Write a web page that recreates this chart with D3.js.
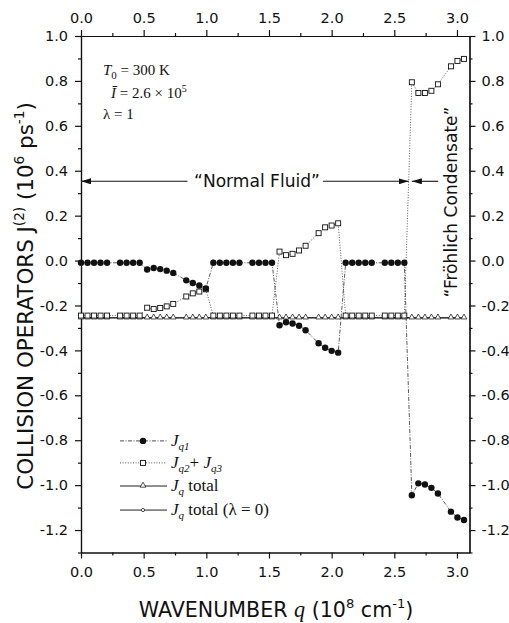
<!DOCTYPE html>
<html>
<head>
<meta charset="utf-8">
<script src="https://cdn.jsdelivr.net/npm/d3@7"></script>
<style>
body { margin: 0; background: #fff; }
svg { display: block; }
.axis text { font-family: "DejaVu Sans", sans-serif; font-size: 14.5px; fill: #111; }
.axis path, .axis line { stroke: #111; stroke-width: 1.2; }
.serif { font-family: "Liberation Serif", "Times New Roman", serif; fill: #111; }
.sans { font-family: "DejaVu Sans", sans-serif; fill: #111; }
</style>
</head>
<body>
<svg width="509" height="623"></svg>
<script>
// wavenumber q (10^8 cm^-1)
const qValues = [
    0.000, 0.052, 0.104, 0.156, 0.208, 0.312, 0.364, 0.416, 0.468,
    0.528, 0.580, 0.632, 0.684, 0.736, 0.840, 0.892, 0.944, 0.996,
    1.056, 1.108, 1.160, 1.212, 1.264, 1.368, 1.420, 1.472, 1.524,
    1.584, 1.636, 1.688, 1.740, 1.792, 1.896, 1.948, 2.000, 2.052,
    2.112, 2.164, 2.216, 2.268, 2.320, 2.424, 2.476, 2.528, 2.580,
    2.640, 2.692, 2.744, 2.796, 2.848, 2.952, 3.004, 3.056
];
const jq1 = [
    -0.010, -0.010, -0.010, -0.010, -0.010, -0.010, -0.010, -0.010, -0.010,
    -0.040, -0.033, -0.038, -0.045, -0.055, -0.088, -0.100, -0.111, -0.124,
    -0.010, -0.010, -0.010, -0.010, -0.010, -0.010, -0.010, -0.010, -0.010,
    -0.288, -0.275, -0.280, -0.290, -0.310, -0.368, -0.388, -0.402, -0.410,
    -0.010, -0.010, -0.010, -0.010, -0.010, -0.010, -0.010, -0.010, -0.010,
    -1.045, -0.992, -0.997, -1.012, -1.037, -1.118, -1.144, -1.155
];
const jq23 = [
    -0.245, -0.245, -0.245, -0.245, -0.245, -0.245, -0.245, -0.245, -0.245,
    -0.210, -0.216, -0.211, -0.204, -0.193, -0.160, -0.146, -0.138, -0.128,
    -0.245, -0.245, -0.245, -0.245, -0.245, -0.245, -0.245, -0.245, -0.245,
     0.040,  0.024,  0.030,  0.045,  0.066,  0.122,  0.148,  0.156,  0.166,
    -0.245, -0.245, -0.245, -0.245, -0.245, -0.245, -0.245, -0.245, -0.245,
     0.794,  0.746,  0.746,  0.756,  0.785,  0.865,  0.889,  0.898
];
const jqTotal = [
    -0.255, -0.255, -0.255, -0.255, -0.255, -0.255, -0.255, -0.255, -0.255,
    -0.255, -0.255, -0.255, -0.255, -0.255, -0.255, -0.255, -0.255, -0.255,
    -0.255, -0.255, -0.255, -0.255, -0.255, -0.255, -0.255, -0.255, -0.255,
    -0.255, -0.255, -0.255, -0.255, -0.255, -0.255, -0.255, -0.255, -0.255,
    -0.255, -0.255, -0.255, -0.255, -0.255, -0.255, -0.255, -0.255, -0.255,
    -0.255, -0.255, -0.255, -0.255, -0.255, -0.255, -0.255, -0.255
];
const jqTotalLambda0 = jqTotal.slice();

const xTicks = [0.0, 0.5, 1.0, 1.5, 2.0, 2.5, 3.0];
const xMinorTicks = [0.25, 0.75, 1.25, 1.75, 2.25, 2.75];
const yTicks = [1.0, 0.8, 0.6, 0.4, 0.2, 0.0, -0.2, -0.4, -0.6, -0.8, -1.0, -1.2];
const yMinorTicks = [0.9, 0.7, 0.5, 0.3, 0.1, -0.1, -0.3, -0.5, -0.7, -0.9, -1.1, -1.3];

const svg = d3.select("svg");
const x = d3.scaleLinear().domain([0, 3.1]).range([81, 469.5]);
const y = d3.scaleLinear().domain([-1.3, 1.0]).range([552.5, 36]);
const fmt = d => d.toFixed(1);

// axes, ticks pointing outwards on all four sides
function drawAxis(axis, minor, transform) {
    svg.append("g").attr("class", "axis").attr("transform", transform)
        .call(axis.tickSize(3).tickValues(minor).tickFormat("").tickSizeOuter(0));
}
drawAxis(d3.axisLeft(y), yMinorTicks, `translate(${x(0)},0)`);
drawAxis(d3.axisRight(y), yMinorTicks, `translate(${x(3.1)},0)`);
drawAxis(d3.axisTop(x), xMinorTicks, `translate(0,${y(1.0)})`);
drawAxis(d3.axisBottom(x), xMinorTicks, `translate(0,${y(-1.3)})`);

svg.append("g").attr("class", "axis").attr("transform", `translate(${x(0)},0)`)
    .call(d3.axisLeft(y).tickValues(yTicks).tickFormat(fmt).tickSize(6).tickPadding(7).tickSizeOuter(0));
svg.append("g").attr("class", "axis").attr("transform", `translate(${x(3.1)},0)`)
    .call(d3.axisRight(y).tickValues(yTicks).tickFormat(fmt).tickSize(6).tickPadding(6).tickSizeOuter(0));
svg.append("g").attr("class", "axis").attr("transform", `translate(0,${y(1.0)})`)
    .call(d3.axisTop(x).tickValues(xTicks).tickFormat(fmt).tickSize(6).tickPadding(7).tickSizeOuter(0));
svg.append("g").attr("class", "axis").attr("transform", `translate(0,${y(-1.3)})`)
    .call(d3.axisBottom(x).tickValues(xTicks).tickFormat(fmt).tickSize(6).tickPadding(8).tickSizeOuter(0));

// series
const pts = vals => qValues.map((q, i) => [q, vals[i]]);
const line = d3.line().x(d => x(d[0])).y(d => y(d[1]));

svg.append("path").attr("d", line(pts(jqTotalLambda0)))
    .attr("fill", "none").attr("stroke", "#222").attr("stroke-width", 1);
svg.append("path").attr("d", line(pts(jqTotal)))
    .attr("fill", "none").attr("stroke", "#222").attr("stroke-width", 1);
svg.selectAll(".tri")
    .data(pts(jqTotal))
    .enter()
    .append("path")
    .attr("class", "tri")
    .attr("transform", d => `translate(${x(d[0])},${y(d[1]) - 0.5})`)
    .attr("d", d3.symbol(d3.symbolTriangle, 14))
    .attr("fill", "#fff").attr("stroke", "#222").attr("stroke-width", 0.8);

svg.append("path").attr("d", line(pts(jq23)))
    .attr("fill", "none").attr("stroke", "#333").attr("stroke-width", 0.8)
    .attr("stroke-dasharray", "1,1.6");
svg.selectAll(".sq")
    .data(pts(jq23))
    .enter()
    .append("rect")
    .attr("class", "sq")
    .attr("x", d => x(d[0]) - 2.5)
    .attr("y", d => y(d[1]) - 2.5)
    .attr("width", 5).attr("height", 5)
    .attr("fill", "#fff").attr("stroke", "#111").attr("stroke-width", 0.9);

svg.append("path").attr("d", line(pts(jq1)))
    .attr("fill", "none").attr("stroke", "#333").attr("stroke-width", 0.8)
    .attr("stroke-dasharray", "4,1.5,1,1.5");
svg.selectAll(".dot")
    .data(pts(jq1))
    .enter()
    .append("circle")
    .attr("class", "dot")
    .attr("cx", d => x(d[0]))
    .attr("cy", d => y(d[1]))
    .attr("r", 3.2)
    .attr("fill", "#111");

// annotations
function addParts(t, parts) {
    parts.forEach(p => {
        const s = t.append("tspan").text(p[0]);
        if (p[1].includes("i")) s.attr("font-style", "italic");
        if (p[1].includes("sub")) s.attr("font-size", "11px").attr("dy", 4);
        if (p[1].includes("up")) s.attr("dy", -4);
        if (p[1].includes("sup")) s.attr("font-size", "10px").attr("dy", -6);
        if (p[1].includes("down")) s.attr("dy", 6);
    });
}

// scale a text placed at 0,0 so its run length matches the original
function fitText(t, cx, cy, target, angle) {
    const w = t.node().getBBox().width;
    t.attr("transform", `translate(${cx},${cy}) rotate(${angle}) scale(${target / w})`);
}

const params = svg.append("g").attr("class", "serif").attr("font-size", "15px");
addParts(params.append("text").attr("x", 103).attr("y", 75),
    [["T", "i"], ["0", "sub"], [" = 300 K", "up"]]);
addParts(params.append("text").attr("x", 111).attr("y", 98),
    [["Ī", "i"], [" = 2.6 × 10", ""], ["5", "sup"]]);
addParts(params.append("text").attr("x", 103).attr("y", 119),
    [["λ", ""], [" = 1", ""]]);

// "Normal Fluid" arrows
svg.append("defs").append("marker")
    .attr("id", "head").attr("viewBox", "0 0 10 6").attr("refX", 10).attr("refY", 3)
    .attr("markerWidth", 10).attr("markerHeight", 6).attr("markerUnits", "userSpaceOnUse")
    .attr("orient", "auto")
    .append("path").attr("d", "M0,0 L10,3 L0,6 Z").attr("fill", "#111");
const ya = y(0.353);
[[0.85, 0.0], [1.93, 2.615], [2.85, 2.64]].forEach(a => {
    svg.append("line")
        .attr("x1", x(a[0])).attr("y1", ya).attr("x2", x(a[1])).attr("y2", ya)
        .attr("stroke", "#111").attr("stroke-width", 1.1)
        .attr("marker-end", "url(#head)");
});
const nf = svg.append("text").attr("class", "sans").attr("font-size", "17.5px")
    .attr("text-anchor", "middle").text("“Normal Fluid”");
fitText(nf, 257, ya + 6, 126, 0);
const fc = svg.append("text").attr("class", "sans").attr("font-size", "17.5px")
    .attr("text-anchor", "middle").text("“Fröhlich Condensate”");
fitText(fc, 457, 202, 191, -90);

// axis titles
const xt = svg.append("text").attr("class", "sans").attr("font-size", "20.5px")
    .attr("text-anchor", "middle");
xt.append("tspan").text("WAVENUMBER ");
xt.append("tspan").attr("class", "serif").attr("font-style", "italic").attr("font-size", "22px").text("q");
xt.append("tspan").text(" (10");
xt.append("tspan").attr("font-size", "13px").attr("dy", -9).text("8");
xt.append("tspan").attr("dy", 9).text(" cm");
xt.append("tspan").attr("font-size", "13px").attr("dy", -9).text("-1");
xt.append("tspan").attr("dy", 9).text(")");
fitText(xt, 276, 617, 275, 0);

const yt = svg.append("text").attr("class", "sans").attr("font-size", "20.5px")
    .attr("text-anchor", "middle");
yt.append("tspan").text("COLLISION OPERATORS J");
yt.append("tspan").attr("font-size", "13px").attr("dy", -9).text("(2)");
yt.append("tspan").attr("dy", 9).text(" (10");
yt.append("tspan").attr("font-size", "13px").attr("dy", -9).text("6");
yt.append("tspan").attr("dy", 9).text(" ps");
yt.append("tspan").attr("font-size", "13px").attr("dy", -9).text("-1");
yt.append("tspan").attr("dy", 9).text(")");
fitText(yt, 33, 296, 388, -90);

// legend
const legendRows = [
    { y: -0.803, dash: "4,1.5,1,1.5", mark: "dot", parts: [["J", "i"], ["q1", "i sub"]] },
    { y: -0.901, dash: "1,1.6", mark: "sq", parts: [["J", "i"], ["q2", "i sub"], ["+ ", "up"], ["J", "i"], ["q3", "i sub"]] },
    { y: -1.004, dash: null, mark: "tri", parts: [["J", "i"], ["q", "i sub"], [" total", "up"]] },
    { y: -1.111, dash: null, mark: "small", parts: [["J", "i"], ["q", "i sub"], [" total (λ = 0)", "up"]] }
];
legendRows.forEach(r => {
    const ly = y(r.y);
    svg.append("line").attr("x1", 120).attr("x2", 167).attr("y1", ly).attr("y2", ly)
        .attr("stroke", "#222").attr("stroke-width", r.dash ? 0.8 : 1)
        .attr("stroke-dasharray", r.dash);
    if (r.mark === "dot") {
        svg.append("circle").attr("cx", 143).attr("cy", ly).attr("r", 3.2).attr("fill", "#111");
    } else if (r.mark === "sq") {
        svg.append("rect").attr("x", 140.5).attr("y", ly - 2.5).attr("width", 5).attr("height", 5)
            .attr("fill", "#fff").attr("stroke", "#111").attr("stroke-width", 0.9);
    } else if (r.mark === "tri") {
        svg.append("path").attr("transform", `translate(143,${ly - 0.5})`)
            .attr("d", d3.symbol(d3.symbolTriangle, 14))
            .attr("fill", "#fff").attr("stroke", "#222").attr("stroke-width", 0.8);
    } else {
        svg.append("circle").attr("cx", 143).attr("cy", ly).attr("r", 1.6)
            .attr("fill", "#fff").attr("stroke", "#222").attr("stroke-width", 0.8);
    }
    addParts(svg.append("text").attr("class", "serif").attr("font-size", "17px")
        .attr("x", 171).attr("y", ly + 5), r.parts);
});
</script>
</body>
</html>
